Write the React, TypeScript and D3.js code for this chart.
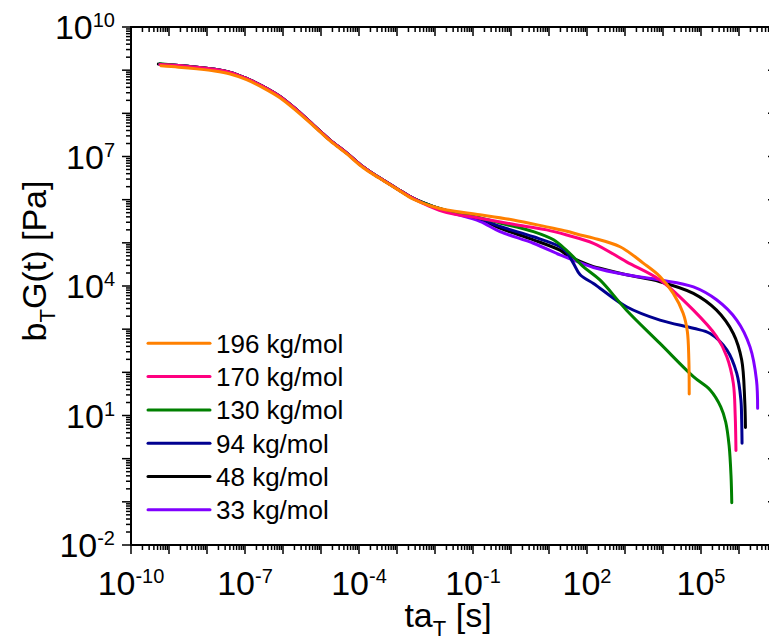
import React from 'react';
import * as d3 from 'd3';

const W = 769;
const H = 643;

// series labels & colours
const seriesNames = ['196 kg/mol', '170 kg/mol', '130 kg/mol', '94 kg/mol', '48 kg/mol', '33 kg/mol'];
const seriesColors = ['#FF8000', '#FF0080', '#008000', '#000090', '#000000', '#8000FF'];

// values, stored as log10(t [s]) and log10(bT G(t) [Pa])
// shared short-time part (the curves overlap there)
const logTEarly = [-8.75, -8.27, -7.8, -7.39, -6.96, -6.52, -6.08, -5.64, -5.2, -4.76, -4.32, -3.89, -3.45, -3.01, -2.57];
const logGEarly = [9.11, 9.07, 9.02, 8.95, 8.81, 8.62, 8.39, 8.08, 7.73, 7.38, 7.08, 6.76, 6.50, 6.26, 6.03];
const logGEarly196 = [9.07, 9.03, 8.98, 8.91, 8.78, 8.59, 8.36, 8.05, 7.71, 7.36, 7.06, 6.74, 6.49, 6.25, 6.01];

const logT196 = [-9.21, ...logTEarly, -2.13, -1.69, -0.82, 0.06, 0.94, 1.47, 1.82, 2.17, 2.87, 3.48, 3.92, 4.27, 4.53, 4.64, 4.68, 4.69];
const logG196 = [9.10, ...logGEarly196, 5.86, 5.76, 5.65, 5.53, 5.37, 5.27, 5.18, 5.11, 4.91, 4.53, 4.22, 3.83, 3.37, 2.95, 2.3, 1.5];

const logT170 = [-9.24, ...logTEarly, -2.13, -1.69, -0.82, 0.06, 0.94, 1.47, 2.17, 3.04, 3.92, 4.80, 5.41, 5.68, 5.85, 5.90, 5.92];
const logG170 = [9.13, ...logGEarly, 5.84, 5.70, 5.57, 5.43, 5.30, 5.18, 4.99, 4.56, 4.14, 3.44, 2.83, 2.36, 1.75, 1.0, 0.19];

const logT130 = [-9.24, ...logTEarly, -2.04, -1.5, -0.82, -0.29, 0.59, 1.12, 1.47, 1.90, 2.34, 3.04, 3.92, 4.80, 5.24, 5.52, 5.65, 5.74, 5.79, 5.81];
const logG130 = [9.15, ...logGEarly, 5.84, 5.71, 5.58, 5.46, 5.26, 5.07, 4.82, 4.45, 4.14, 3.44, 2.67, 1.90, 1.59, 1.2, 0.85, 0.3, -0.4, -1.02];

const logT94 = [-9.24, ...logTEarly, -2.04, -1.5, -0.82, -0.29, 0.59, 1.29, 1.47, 1.64, 1.82, 2.17, 2.34, 3.04, 3.92, 4.80, 5.24, 5.68, 5.94, 6.05, 6.07, 6.08];
const logG94 = [9.14, ...logGEarly, 5.84, 5.70, 5.56, 5.38, 5.14, 4.91, 4.78, 4.53, 4.26, 4.06, 3.95, 3.52, 3.21, 3.02, 2.90, 2.52, 1.98, 1.36, 0.9, 0.36];

const logT48 = [-9.28, ...logTEarly, -2.04, -1.5, -0.82, -0.29, 0.59, 1.29, 1.47, 2.17, 2.34, 3.04, 3.92, 4.80, 5.41, 5.85, 6.07, 6.15, 6.17];
const logG48 = [9.14, ...logGEarly, 5.84, 5.70, 5.55, 5.34, 5.07, 4.83, 4.72, 4.45, 4.41, 4.26, 4.10, 3.83, 3.44, 2.90, 2.29, 1.36, 0.72];

const logT33 = [-9.24, ...logTEarly, -2.04, -1.5, -0.82, -0.29, 0.59, 1.29, 1.47, 2.17, 3.04, 3.92, 4.80, 5.41, 5.94, 6.29, 6.46, 6.49];
const logG33 = [9.14, ...logGEarly, 5.83, 5.68, 5.50, 5.26, 4.99, 4.72, 4.66, 4.43, 4.26, 4.14, 3.98, 3.68, 3.21, 2.59, 1.82, 1.17];

const seriesLogT = [logT196, logT170, logT130, logT94, logT48, logT33];
const seriesLogG = [logG196, logG170, logG130, logG94, logG48, logG33];
const drawOrder = [4, 5, 3, 2, 1, 0];

// axes
const xDomain = [1e-10, 1e7];
const yDomain = [1e-2, 1e10];
const xLabelExps = [-10, -7, -4, -1, 2, 5];
const yLabelExps = [-2, 1, 4, 7, 10];
const xTitle = 'ta';
const yTitle = 'b';

const FONT = 'Arial, "Liberation Sans", Helvetica, sans-serif';

const L = 131, R = 777, T = 27, B = 545;

export default function App() {
  const x = d3.scaleLog().domain(xDomain).range([L, R]);
  const y = d3.scaleLog().domain(yDomain).range([B, T]);

  const line = d3
    .line<[number, number]>()
    .x((d) => x(d[0]))
    .y((d) => y(d[1]))
    .curve(d3.curveCatmullRom.alpha(0.5));

  const xExp0 = Math.round(Math.log10(xDomain[0]));
  const xExp1 = Math.round(Math.log10(xDomain[1]));
  const yExp0 = Math.round(Math.log10(yDomain[0]));
  const yExp1 = Math.round(Math.log10(yDomain[1]));

  const xMajor: number[] = d3.range(xExp0, xExp1 + 1).map((e) => Math.pow(10, e));
  const xMinor: number[] = [];
  d3.range(xExp0, xExp1).forEach((e) => d3.range(2, 10).forEach((k) => xMinor.push(k * Math.pow(10, e))));
  const yMajor: number[] = d3.range(yExp0, yExp1 + 1).map((e) => Math.pow(10, e));
  const yMinor: number[] = [];
  d3.range(yExp0, yExp1).forEach((e) => d3.range(2, 10).forEach((k) => yMinor.push(k * Math.pow(10, e))));

  const MAJ = 9;
  const MIN = 5;
  const tickW = 1.5;

  return (
    <svg width={W} height={H} style={{ position: 'absolute', left: 0, top: 0, background: '#fff' }} fontFamily={FONT}>
      {/* curves */}
      {drawOrder.map((i) => {
        const pts = seriesLogT[i].map((lt, j) => [Math.pow(10, lt), Math.pow(10, seriesLogG[i][j])] as [number, number]);
        return (
          <path key={i} d={line(pts) || ''} fill="none" stroke={seriesColors[i]} strokeWidth={3} strokeLinecap="round" strokeLinejoin="round" />
        );
      })}

      {/* ticks */}
      <g stroke="#000" strokeWidth={tickW}>
        {xMajor.map((v, i) => (
          <g key={'xM' + i}>
            <line x1={x(v)} x2={x(v)} y1={B} y2={B + MAJ} />
            <line x1={x(v)} x2={x(v)} y1={T} y2={T + MAJ} />
          </g>
        ))}
        {xMinor.map((v, i) => (
          <g key={'xm' + i}>
            <line x1={x(v)} x2={x(v)} y1={B} y2={B + MIN} />
            <line x1={x(v)} x2={x(v)} y1={T} y2={T + MIN} />
          </g>
        ))}
        {yMajor.map((v, i) => (
          <g key={'yM' + i}>
            <line x1={L - MAJ} x2={L} y1={y(v)} y2={y(v)} />
            <line x1={R - MAJ} x2={R} y1={y(v)} y2={y(v)} />
          </g>
        ))}
        {yMinor.map((v, i) => (
          <g key={'ym' + i}>
            <line x1={L - MIN} x2={L} y1={y(v)} y2={y(v)} />
            <line x1={R - MIN} x2={R} y1={y(v)} y2={y(v)} />
          </g>
        ))}
      </g>

      {/* frame */}
      <rect x={L} y={T} width={R - L} height={B - T} fill="none" stroke="#000" strokeWidth={2} />

      {/* tick labels */}
      {xLabelExps.map((e) => (
        <text key={'xl' + e} x={x(Math.pow(10, e))} y={595} textAnchor="middle" fontSize={34} fill="#000">
          10<tspan fontSize={20} dy={-12}>{String(e)}</tspan>
        </text>
      ))}
      {yLabelExps.map((e) => (
        <text key={'yl' + e} x={115} y={y(Math.pow(10, e)) + 12} textAnchor="end" fontSize={34} fill="#000">
          10<tspan fontSize={20} dy={-12}>{String(e)}</tspan>
        </text>
      ))}

      {/* axis titles */}
      <text x={448} y={627} textAnchor="middle" fontSize={34} fill="#000">
        {xTitle}
        <tspan fontSize={22} dy={9}>T</tspan>
        <tspan dy={-9}> [s]</tspan>
      </text>
      <text transform={`translate(46,261) rotate(-90)`} textAnchor="middle" fontSize={34} fill="#000">
        {yTitle}
        <tspan fontSize={22} dy={9}>T</tspan>
        <tspan dy={-9}>G(t) [Pa]</tspan>
      </text>

      {/* legend */}
      {seriesNames.map((name, i) => {
        const ly = 343.3 + i * 33.3;
        return (
          <g key={'lg' + i}>
            <line x1={148} x2={210} y1={ly} y2={ly} stroke={seriesColors[i]} strokeWidth={3} strokeLinecap="round" />
            <text x={216} y={ly + 9.5} fontSize={26} fill="#000">
              {name}
            </text>
          </g>
        );
      })}
    </svg>
  );
}
